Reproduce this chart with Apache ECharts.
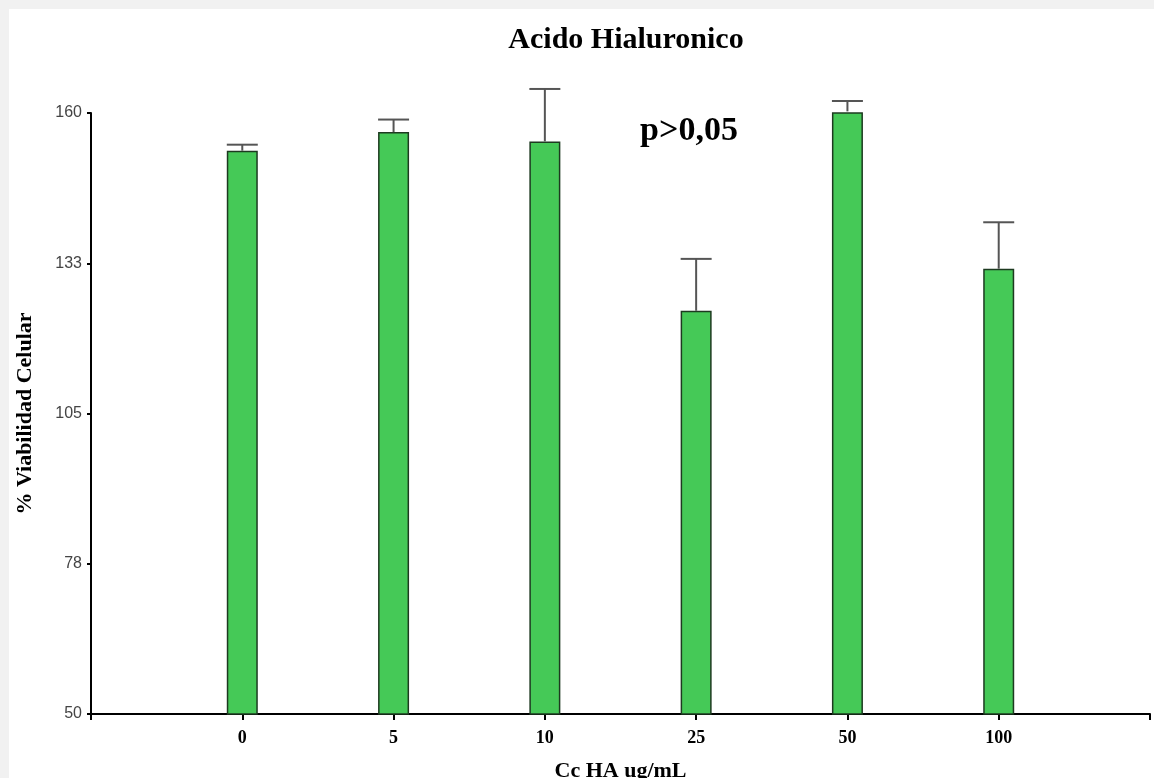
<!DOCTYPE html>
<html>
<head>
<meta charset="utf-8">
<script src="https://cdn.jsdelivr.net/npm/echarts@6/dist/echarts.min.js"></script>
<style>
html,body{margin:0;padding:0;background:#fff;}
#c{width:1154px;height:778px;}
</style>
</head>
<body>
<div id="c"></div>
<script>
const categories = ['0', '5', '10', '25', '50', '100'];
const means = [153.1, 156.5, 154.8, 123.8, 160.3, 131.5];
const errors = [1.1, 2.3, 9.6, 9.5, 1.9, 8.5];
const yTicks = [50, 77.5, 105, 132.5, 160];
const xPositions = [1, 2, 3, 4, 5, 6];

const chart = echarts.init(document.getElementById('c'), null, {renderer: 'canvas'});
const serif = '"Liberation Serif", "DejaVu Serif", serif';

const barData = xPositions.map((x, i) => [x, means[i]]);
const errData = xPositions.map((x, i) => [x, means[i], means[i] + errors[i]]);

chart.setOption({
  animation: false,
  backgroundColor: '#fff',
  graphic: [
    {type: 'rect', left: 0, top: 0, shape: {width: 1154, height: 9}, style: {fill: '#f1f1f1'}, z: -10},
    {type: 'rect', left: 0, top: 0, shape: {width: 9, height: 778}, style: {fill: '#f1f1f1'}, z: -10},
    {type: 'text', x: 689, y: 131, style: {text: 'p>0,05', font: 'bold 34px ' + serif, fill: '#000', align: 'center', verticalAlign: 'middle'}}
  ],
  title: {
    text: 'Acido Hialuronico',
    left: 621, textAlign: 'center', top: 20,
    textStyle: {fontFamily: serif, fontWeight: 'bold', fontSize: 30, color: '#000'}
  },
  grid: {left: 91, right: 4, top: 113, bottom: 64, containLabel: false, outerBoundsMode: 'none'},
  xAxis: {
    type: 'value', min: 0, max: 7, interval: 1,
    splitLine: {show: false},
    axisLine: {show: true, onZero: false, lineStyle: {color: '#000', width: 2}},
    axisTick: {show: true, length: 6, lineStyle: {color: '#000', width: 2}},
    axisLabel: {
      margin: 15,
      fontFamily: serif, fontWeight: 'bold', fontSize: 18, color: '#000',
      formatter: v => (v >= 1 && v <= categories.length && Number.isInteger(v)) ? categories[v - 1] : ''
    },
    name: 'Cc HA ug/mL', nameLocation: 'middle', nameGap: 46,
    nameTextStyle: {fontFamily: serif, fontWeight: 'bold', fontSize: 22, color: '#000'}
  },
  yAxis: {
    type: 'value', min: 50, max: 160,
    splitLine: {show: false},
    axisLine: {show: true, onZero: false, lineStyle: {color: '#000', width: 2}},
    axisTick: {show: true, length: 4, customValues: yTicks, lineStyle: {color: '#000', width: 2}},
    axisLabel: {
      customValues: yTicks, margin: 9,
      fontFamily: '"Liberation Sans", Arial, sans-serif', fontSize: 16, color: '#444',
      formatter: v => String(Math.round(v))
    },
    name: '% Viabilidad Celular', nameLocation: 'middle', nameGap: 55, nameRotate: 90,
    nameTextStyle: {fontFamily: serif, fontWeight: 'bold', fontSize: 22, color: '#000'}
  },
  series: [
    {
      type: 'bar', data: barData, barWidth: 31,
      itemStyle: {color: '#45c957', borderColor: '#1d3a20', borderWidth: 1.5},
      z: 2
    },
    {
      type: 'custom', data: errData, z: 3,
      renderItem: function (params, api) {
        const x = api.value(0);
        const top = api.coord([x, api.value(2)]);
        const base = api.coord([x, api.value(1)]);
        const hw = 15.5;
        const st = {stroke: '#555', lineWidth: 2};
        return {
          type: 'group',
          children: [
            {type: 'line', shape: {x1: top[0], y1: top[1], x2: base[0], y2: base[1]}, style: st},
            {type: 'line', shape: {x1: top[0] - hw, y1: top[1], x2: top[0] + hw, y2: top[1]}, style: st}
          ]
        };
      }
    }
  ]
});
</script>
</body>
</html>
